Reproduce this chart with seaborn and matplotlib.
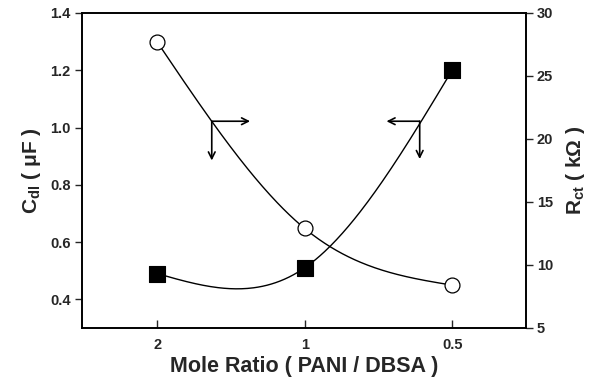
import numpy as np
import pandas as pd
import matplotlib
matplotlib.use("Agg")
import matplotlib.pyplot as plt
import seaborn as sns

# Mole ratio categories (PANI / DBSA), plotted at evenly spaced positions
ratio_labels = ["2", "1", "0.5"]
positions = [0, 1, 2]

# Double-layer capacitance (μF) – filled squares, left axis
cdl_values = [0.49, 0.51, 1.20]
# Charge-transfer resistance (kΩ) – open circles, right axis
rct_values = [27.7, 12.9, 8.4]

sns.set_theme(style="white")
plt.rcParams["font.family"] = ["Liberation Sans", "DejaVu Sans"]
plt.rcParams["font.weight"] = "bold"
plt.rcParams["mathtext.fontset"] = "custom"
plt.rcParams["mathtext.rm"] = "Liberation Sans:bold"
plt.rcParams["mathtext.it"] = "Liberation Sans:bold"
plt.rcParams["mathtext.bf"] = "Liberation Sans:bold"


def natural_spline(x, y, n=200):
    """Natural cubic spline through the given points."""
    x = np.asarray(x, float)
    y = np.asarray(y, float)
    k = len(x)
    h = np.diff(x)
    A = np.zeros((k, k))
    b = np.zeros(k)
    A[0, 0] = A[-1, -1] = 1.0
    for i in range(1, k - 1):
        A[i, i - 1] = h[i - 1]
        A[i, i] = 2 * (h[i - 1] + h[i])
        A[i, i + 1] = h[i]
        b[i] = 6 * ((y[i + 1] - y[i]) / h[i] - (y[i] - y[i - 1]) / h[i - 1])
    M = np.linalg.solve(A, b)
    xs = np.linspace(x[0], x[-1], n)
    ys = np.empty_like(xs)
    for j, xv in enumerate(xs):
        i = min(np.searchsorted(x, xv, side="right") - 1, k - 2)
        t = xv - x[i]
        hi = h[i]
        ys[j] = (M[i] * (x[i + 1] - xv) ** 3 / (6 * hi)
                 + M[i + 1] * t ** 3 / (6 * hi)
                 + (y[i] / hi - M[i] * hi / 6) * (x[i + 1] - xv)
                 + (y[i + 1] / hi - M[i + 1] * hi / 6) * t)
    return xs, ys


fig = plt.figure(figsize=(6.01, 3.82), dpi=100)
ax = fig.add_axes([0.1364, 0.1414, 0.7386, 0.8246])
ax2 = ax.twinx()

pts = pd.DataFrame({"pos": positions, "cdl": cdl_values, "rct": rct_values})

# Cdl curve and markers (left axis)
xs, ys = natural_spline(positions, cdl_values)
sns.lineplot(x=xs, y=ys, ax=ax, color="black", linewidth=1.0, sort=False)
sns.scatterplot(data=pts, x="pos", y="cdl", ax=ax, marker="s", s=120,
                color="black", edgecolor="black", linewidth=0.8, zorder=5)

# Rct curve and markers (right axis)
xs2, ys2 = natural_spline(positions, rct_values)
sns.lineplot(x=xs2, y=ys2, ax=ax2, color="black", linewidth=1.0, sort=False)
sns.scatterplot(data=pts, x="pos", y="rct", ax=ax2, marker="o", s=115,
                facecolor="white", edgecolor="black", linewidth=0.9, zorder=5)

# Left axis
ax.set_xlim(-0.51, 2.5)
ax.set_ylim(0.3, 1.4)
ax.set_yticks([0.4, 0.6, 0.8, 1.0, 1.2, 1.4])
ax.set_yticklabels([f"{v:.1f}" for v in [0.4, 0.6, 0.8, 1.0, 1.2, 1.4]])
ax.set_xticks(positions)
ax.set_xticklabels(ratio_labels)
ax.tick_params(axis="x", direction="in", length=6, width=1.0, labelsize=10.5,
               pad=7, bottom=True)
ax.tick_params(axis="y", direction="out", length=5, width=1.0, labelsize=10.5,
               left=True, pad=3)
ax.set_xlabel("Mole Ratio ( PANI / DBSA )", fontsize=15.5, fontweight="bold",
              labelpad=3)
ax.set_ylabel(r"C$_{\mathrm{dl}}$ ( μF )", fontsize=15, fontweight="bold",
              labelpad=5)

# Right axis
ax2.set_ylim(5, 30)
ax2.set_yticks([5, 10, 15, 20, 25, 30])
ax2.tick_params(axis="y", direction="out", length=5, width=1.0,
                labelsize=10.5, right=True, pad=3)
ax2.set_ylabel(r"R$_{\mathrm{ct}}$ ( kΩ )", fontsize=15, fontweight="bold",
               labelpad=8)
ax2.grid(False)
ax.grid(False)

for a in (ax, ax2):
    for s in a.spines.values():
        s.set_color("black")
        s.set_linewidth(1.2)
    for lab in a.get_xticklabels() + a.get_yticklabels():
        lab.set_fontweight("bold")

# Arrows indicating which axis each curve belongs to
arrow = dict(arrowstyle="->", color="black", lw=1.2,
             shrinkA=0, shrinkB=0, mutation_scale=12)
ax.annotate("", xy=(0.63, 1.022), xytext=(0.37, 1.022), arrowprops=arrow)
ax.annotate("", xy=(0.37, 0.885), xytext=(0.37, 1.022), arrowprops=arrow)
ax.annotate("", xy=(1.555, 1.022), xytext=(1.78, 1.022), arrowprops=arrow)
ax.annotate("", xy=(1.78, 0.89), xytext=(1.78, 1.022), arrowprops=arrow)

fig.savefig("out.png", dpi=100)
